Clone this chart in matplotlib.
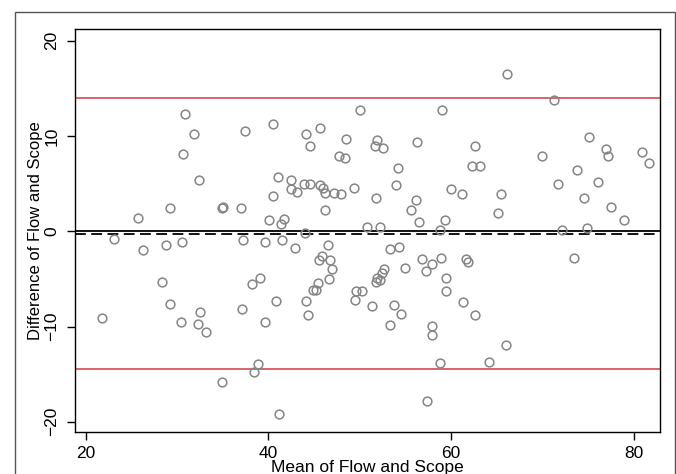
import matplotlib
matplotlib.use("Agg")
import matplotlib.pyplot as plt
from matplotlib.patches import Rectangle

plt.rcParams['font.family'] = ['Liberation Sans', 'DejaVu Sans']

# mean of the two methods (x) and their difference (y)
mean_vals = [66.1, 71.28, 30.85, 50.05, 58.96, 40.52, 45.69, 37.44, 44.08, 31.80,
             75.12, 48.44, 51.90, 56.26, 44.55, 51.66, 52.56, 62.61, 76.92, 80.95,
             77.16, 30.66, 47.68, 48.39, 69.95, 81.71, 54.17, 62.32, 63.18, 73.79,
             41.00, 32.37, 42.51, 76.07, 71.66, 43.93, 44.60, 45.64, 53.98, 45.92,
             49.38, 42.51, 60.00, 46.16, 43.17, 47.20, 47.91, 61.18, 65.45, 40.52,
             51.80, 74.55, 56.21, 77.49, 29.24, 35.02, 34.93, 36.97, 46.16, 55.59,
             65.17, 25.69, 40.05, 41.66, 41.33, 56.49, 59.29, 78.91, 50.76, 52.18,
             72.13, 74.93, 58.77, 44.03, 23.08, 37.20, 41.47, 30.57, 39.67, 26.26,
             28.77, 42.89, 46.54, 53.32, 54.27, 45.88, 45.55, 46.73, 56.78, 58.86,
             61.61, 61.90, 73.46, 57.91, 46.97, 54.93, 52.65, 57.20, 52.46, 59.43,
             39.05, 51.94, 46.64, 51.75, 52.23, 38.25, 45.45, 28.39, 44.93, 45.26,
             49.57, 50.19, 59.43, 49.48, 40.81, 44.12, 29.24, 61.28, 51.33, 53.70,
             37.06, 32.46, 54.55, 44.31, 62.61, 21.75, 30.38, 39.67, 32.27, 53.32,
             57.96, 33.18, 57.96, 66.02, 64.12, 58.77, 38.82, 38.39, 34.93, 57.39,
             41.18]
diff_vals = [16.46, 13.73, 12.33, 12.71, 12.71, 11.24, 10.79, 10.51, 10.16, 10.16,
             9.88, 9.70, 9.53, 9.32, 8.97, 8.97, 8.76, 8.97, 8.62, 8.30,
             7.95, 8.06, 7.85, 7.67, 7.88, 7.15, 6.65, 6.87, 6.87, 6.48,
             5.74, 5.36, 5.36, 5.18, 5.01, 4.94, 5.01, 4.90, 4.90, 4.55,
             4.55, 4.45, 4.45, 4.06, 4.10, 3.99, 3.92, 3.92, 3.92, 3.71,
             3.54, 3.54, 3.33, 2.56, 2.45, 2.59, 2.49, 2.45, 2.28, 2.28,
             1.89, 1.44, 1.16, 1.26, 0.81, 0.98, 1.16, 1.16, 0.42, 0.42,
             0.18, 0.32, 0.11, -0.14, -0.77, -0.95, -0.88, -1.09, -1.12, -1.93,
             -1.40, -1.75, -1.40, -1.86, -1.68, -2.59, -2.98, -3.01, -2.94, -2.77,
             -2.91, -3.22, -2.77, -3.43, -3.96, -3.85, -3.99, -4.13, -4.38, -4.87,
             -4.87, -4.87, -4.97, -5.29, -5.15, -5.50, -5.39, -5.36, -6.13, -6.13,
             -6.23, -6.27, -6.27, -7.25, -7.36, -7.36, -7.64, -7.46, -7.88, -7.71,
             -8.20, -8.48, -8.65, -8.83, -8.83, -9.11, -9.49, -9.49, -9.74, -9.81,
             -9.91, -10.58, -10.86, -11.94, -13.70, -13.87, -13.91, -14.78, -15.87, -17.79,
             -19.16]

mean_diff = -0.25
upper_loa = 14.0
lower_loa = -14.47

fig = plt.figure(figsize=(6.76, 4.74), dpi=100)
ax = fig.add_axes([0.1108, 0.088, 0.8651, 0.8502])

# outer graph-region frame
fig.patches.append(Rectangle((15 / 676, -0.05), 660 / 676, 1.05 - 12.3 / 474,
                             transform=fig.transFigure, fill=False,
                             edgecolor='#555555', linewidth=1.0))

ax.axhline(upper_loa, color='#d9646e', linewidth=1.4, zorder=1)
ax.axhline(lower_loa, color='#d9646e', linewidth=1.4, zorder=1)
ax.axhline(0, color='black', linewidth=1.3, zorder=2)
ax.axhline(mean_diff, color='black', linewidth=1.3, linestyle=(0, (6, 3)), zorder=2)

ax.plot(mean_vals, diff_vals, linestyle='none', marker='o', markersize=6.3,
        markerfacecolor='none', markeredgecolor='#858585', markeredgewidth=1.1, zorder=3)

ax.set_xlim(18.8, 82.85)
ax.set_ylim(-21.1, 21.2)
ax.set_xticks([20, 40, 60, 80])
ax.set_yticks([-20, -10, 0, 10, 20])
ax.tick_params(axis='both', direction='out', length=6, width=1, labelsize=12.5)
ax.tick_params(axis='x', pad=4)
ax.tick_params(axis='y', pad=5)
for lab in ax.get_yticklabels():
    lab.set_rotation(90)
    lab.set_va('center')

for s in ax.spines.values():
    s.set_linewidth(1.0)

ax.set_xlabel('Mean of Flow and Scope', fontsize=12.5, labelpad=-1)
ax.set_ylabel('Difference of Flow and Scope', fontsize=12, labelpad=1)

fig.savefig('out.png', dpi=100)
